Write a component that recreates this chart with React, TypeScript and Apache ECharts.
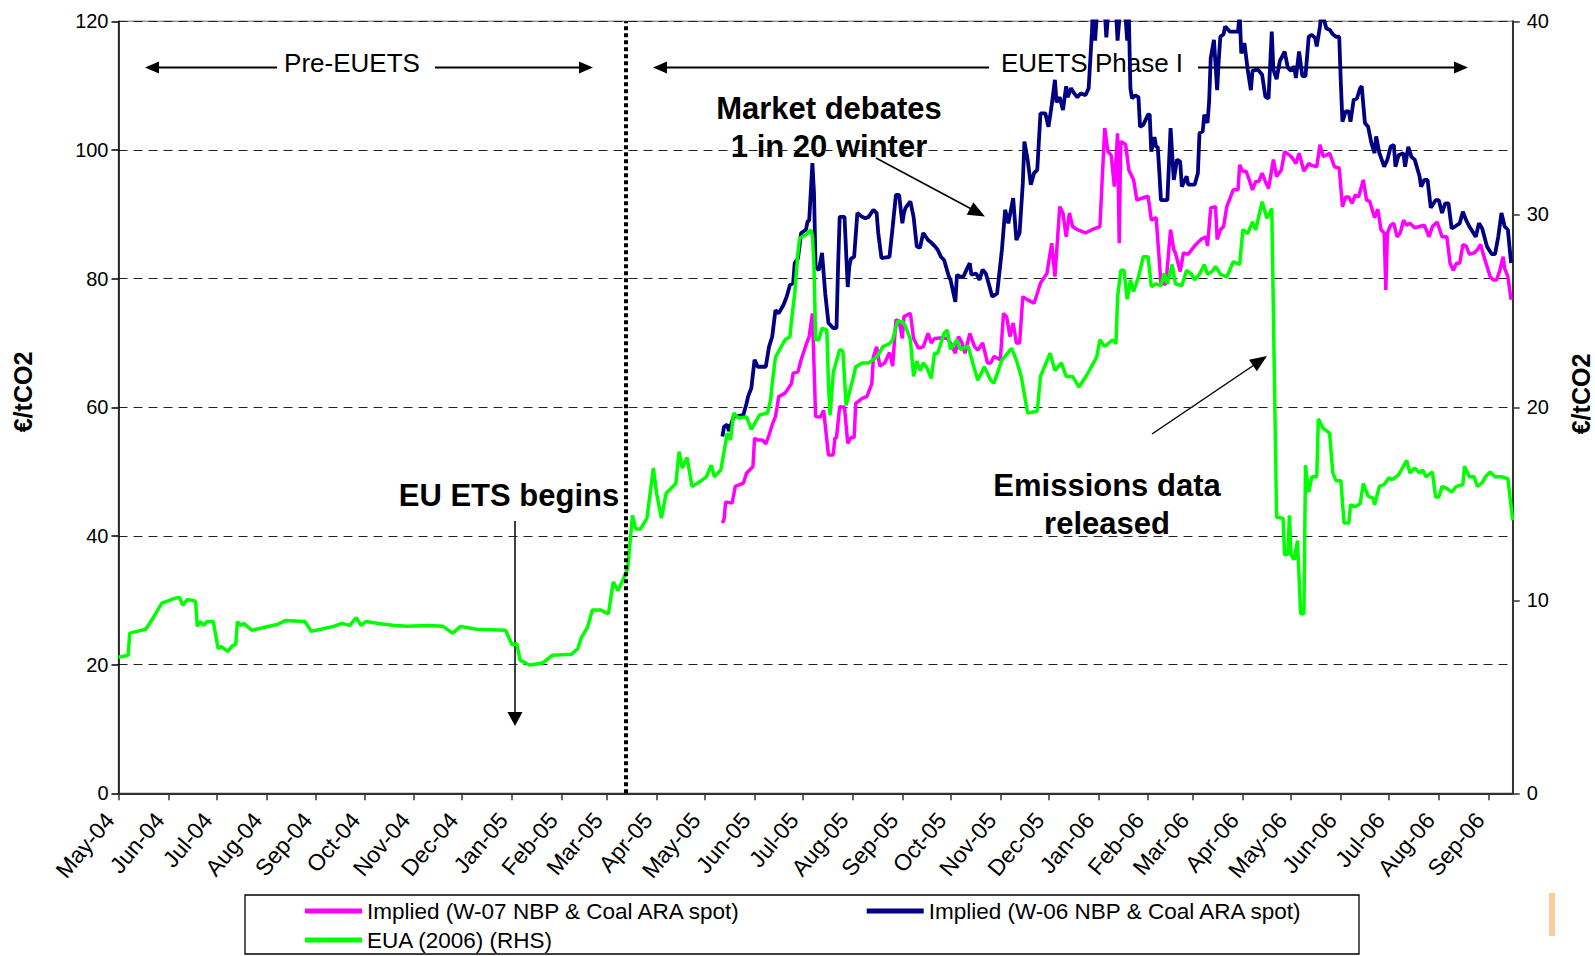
import React, { useEffect, useRef } from 'react';
import * as echarts from 'echarts';

const FONT = '"Liberation Sans", Arial, sans-serif';
const MONTHS = ['Jan', 'Feb', 'Mar', 'Apr', 'May', 'Jun', 'Jul', 'Aug', 'Sep', 'Oct', 'Nov', 'Dec'];

const tickLabels = ['May-04', 'Jun-04', 'Jul-04', 'Aug-04', 'Sep-04', 'Oct-04', 'Nov-04', 'Dec-04', 'Jan-05', 'Feb-05', 'Mar-05', 'Apr-05', 'May-05', 'Jun-05', 'Jul-05', 'Aug-05', 'Sep-05', 'Oct-05', 'Nov-05', 'Dec-05', 'Jan-06', 'Feb-06', 'Mar-06', 'Apr-06', 'May-06', 'Jun-06', 'Jul-06', 'Aug-06', 'Sep-06'];
const axisStart = '2004-05-01';
const axisEnd = '2006-09-16';
const phaseOneMarker = '2005-03-13';

const leftAxis = { min: 0, max: 120, interval: 20 };
const rightAxis = { min: 0, max: 40, interval: 10 };
const axisTitle = '€/tCO2';

const nameW07 = 'Implied (W-07 NBP & Coal ARA spot)';
const nameW06 = 'Implied (W-06 NBP & Coal ARA spot)';
const nameEUA = 'EUA (2006) (RHS)';

// EUA (2006) price, right-hand scale
const euaData: [string, number][] = [
  ['2004-05-01', 7.05], ['2004-05-07', 7.15], ['2004-05-08', 8.3], ['2004-05-18', 8.5], ['2004-05-23', 9.15], ['2004-05-28', 9.85], ['2004-06-05', 10.1], ['2004-06-08', 10.15], ['2004-06-10', 9.75], ['2004-06-13', 10.05], ['2004-06-18', 9.95], ['2004-06-19', 8.65], ['2004-06-21', 8.9], ['2004-06-23', 8.7], ['2004-06-25', 8.9], ['2004-06-29', 8.9], ['2004-07-02', 7.5], ['2004-07-04', 7.6], ['2004-07-08', 7.35], ['2004-07-11', 7.65], ['2004-07-13', 7.7], ['2004-07-14', 8.9], ['2004-07-16', 8.7], ['2004-07-18', 8.8], ['2004-07-23', 8.45], ['2004-07-31', 8.6], ['2004-08-08', 8.75], ['2004-08-13', 8.95], ['2004-08-25', 8.9], ['2004-08-29', 8.4], ['2004-09-04', 8.5], ['2004-09-12', 8.65], ['2004-09-17', 8.8], ['2004-09-22', 8.7], ['2004-09-26', 9.1], ['2004-09-29', 8.7], ['2004-10-02', 8.9], ['2004-10-10', 8.8], ['2004-10-20', 8.7], ['2004-10-28', 8.65], ['2004-11-10', 8.7], ['2004-11-19', 8.65], ['2004-11-25', 8.3], ['2004-11-30', 8.65], ['2004-12-10', 8.5], ['2004-12-28', 8.45],
  ['2005-01-01', 7.7], ['2005-01-04', 7.75], ['2005-01-06', 6.9], ['2005-01-12', 6.65], ['2005-01-20', 6.75], ['2005-01-26', 7.15], ['2005-02-07', 7.2], ['2005-02-11', 7.5], ['2005-02-13', 8.05], ['2005-02-17', 8.6], ['2005-02-20', 9.5], ['2005-02-25', 9.5], ['2005-03-02', 9.3], ['2005-03-05', 10.95], ['2005-03-08', 10.5], ['2005-03-11', 11.05], ['2005-03-14', 11.65], ['2005-03-17', 14.4], ['2005-03-19', 13.7], ['2005-03-22', 13.7], ['2005-03-26', 14.25], ['2005-03-30', 16.85], ['2005-04-01', 15.55], ['2005-04-04', 14.25], ['2005-04-07', 15.55], ['2005-04-13', 16.05], ['2005-04-15', 17.7], ['2005-04-17', 16.85], ['2005-04-20', 17.4], ['2005-04-23', 15.9], ['2005-04-28', 16.15], ['2005-05-02', 16.4], ['2005-05-05', 17.0], ['2005-05-07', 16.4], ['2005-05-11', 16.75], ['2005-05-15', 18.65], ['2005-05-17', 18.3], ['2005-05-19', 19.7], ['2005-05-22', 19.45], ['2005-05-27', 19.5], ['2005-05-30', 18.85], ['2005-06-04', 19.6], ['2005-06-09', 19.7], ['2005-06-11', 20.4], ['2005-06-12', 21.25], ['2005-06-14', 22.6], ['2005-06-20', 23.5], ['2005-06-23', 23.65], ['2005-06-24', 24.5], ['2005-06-26', 25.9], ['2005-06-28', 28.0], ['2005-06-29', 28.75], ['2005-07-04', 29.0], ['2005-07-06', 29.2], ['2005-07-07', 28.9], ['2005-07-08', 27.3], ['2005-07-09', 23.5], ['2005-07-11', 23.5], ['2005-07-13', 24.1], ['2005-07-16', 24.0], ['2005-07-17', 21.25], ['2005-07-18', 19.6], ['2005-07-20', 21.8], ['2005-07-24', 23.0], ['2005-07-26', 22.9], ['2005-07-28', 20.1], ['2005-08-01', 21.4], ['2005-08-03', 22.1], ['2005-08-07', 22.3], ['2005-08-11', 22.3], ['2005-08-16', 22.6], ['2005-08-20', 23.15], ['2005-08-24', 23.3], ['2005-08-26', 23.5], ['2005-08-29', 24.45], ['2005-09-01', 24.45], ['2005-09-03', 24.2], ['2005-09-06', 23.5], ['2005-09-08', 21.6], ['2005-09-10', 22.4], ['2005-09-12', 21.9], ['2005-09-14', 22.3], ['2005-09-16', 22.1], ['2005-09-19', 21.5], ['2005-09-21', 22.8], ['2005-09-23', 22.8], ['2005-09-27', 23.85], ['2005-09-29', 24.0], ['2005-10-01', 23.0], ['2005-10-05', 23.5], ['2005-10-07', 23.0], ['2005-10-12', 23.15], ['2005-10-16', 21.95], ['2005-10-18', 21.4], ['2005-10-22', 22.1], ['2005-10-26', 21.4], ['2005-10-28', 21.25], ['2005-11-02', 22.45], ['2005-11-08', 23.05], ['2005-11-11', 22.45], ['2005-11-14', 21.6], ['2005-11-18', 19.7], ['2005-11-24', 19.8], ['2005-11-26', 21.6], ['2005-12-02', 22.8], ['2005-12-05', 21.9], ['2005-12-09', 22.3], ['2005-12-12', 21.6], ['2005-12-16', 21.6], ['2005-12-20', 21.05], ['2005-12-25', 21.7], ['2005-12-31', 22.6],
  ['2006-01-02', 23.5], ['2006-01-05', 23.15], ['2006-01-10', 23.5], ['2006-01-12', 23.3], ['2006-01-13', 25.7], ['2006-01-15', 27.1], ['2006-01-17', 27.1], ['2006-01-19', 25.6], ['2006-01-21', 26.6], ['2006-01-23', 26.0], ['2006-01-26', 26.75], ['2006-01-29', 27.8], ['2006-02-01', 27.8], ['2006-02-03', 26.25], ['2006-02-06', 26.4], ['2006-02-09', 26.3], ['2006-02-11', 26.95], ['2006-02-13', 26.4], ['2006-02-16', 27.4], ['2006-02-18', 26.4], ['2006-02-22', 26.3], ['2006-02-25', 27.1], ['2006-02-28', 26.9], ['2006-03-02', 26.6], ['2006-03-05', 26.9], ['2006-03-08', 27.4], ['2006-03-10', 26.9], ['2006-03-13', 27.05], ['2006-03-15', 27.3], ['2006-03-18', 26.9], ['2006-03-22', 26.75], ['2006-03-26', 27.55], ['2006-03-30', 27.4], ['2006-04-01', 29.2], ['2006-04-04', 29.0], ['2006-04-07', 29.6], ['2006-04-09', 29.2], ['2006-04-13', 30.65], ['2006-04-16', 29.8], ['2006-04-19', 30.3], ['2006-04-22', 14.3], ['2006-04-26', 14.25], ['2006-04-27', 12.35], ['2006-04-29', 12.4], ['2006-04-30', 14.4], ['2006-05-01', 12.35], ['2006-05-03', 12.1], ['2006-05-05', 13.1], ['2006-05-07', 9.3], ['2006-05-09', 9.3], ['2006-05-10', 17.0], ['2006-05-12', 15.6], ['2006-05-14', 16.4], ['2006-05-17', 16.4], ['2006-05-18', 19.4], ['2006-05-21', 18.9], ['2006-05-23', 18.8], ['2006-05-25', 18.65], ['2006-05-27', 16.6], ['2006-05-29', 16.2], ['2006-06-01', 16.2], ['2006-06-03', 14.0], ['2006-06-06', 14.0], ['2006-06-07', 14.95], ['2006-06-10', 14.85], ['2006-06-13', 15.0], ['2006-06-15', 16.05], ['2006-06-18', 15.4], ['2006-06-21', 15.3], ['2006-06-22', 14.95], ['2006-06-25', 15.9], ['2006-06-28', 16.0], ['2006-07-01', 16.35], ['2006-07-03', 16.25], ['2006-07-07', 16.5], ['2006-07-10', 16.95], ['2006-07-12', 17.25], ['2006-07-14', 16.6], ['2006-07-17', 16.85], ['2006-07-20', 16.6], ['2006-07-22', 16.75], ['2006-07-24', 16.4], ['2006-07-28', 16.65], ['2006-07-30', 15.35], ['2006-08-01', 15.35], ['2006-08-03', 15.9], ['2006-08-06', 15.8], ['2006-08-09', 15.6], ['2006-08-12', 15.9], ['2006-08-16', 16.0], ['2006-08-17', 16.95], ['2006-08-20', 16.4], ['2006-08-23', 16.4], ['2006-08-25', 15.9], ['2006-08-28', 16.1], ['2006-08-30', 16.4], ['2006-09-02', 16.65], ['2006-09-05', 16.4], ['2006-09-09', 16.4], ['2006-09-13', 16.3], ['2006-09-16', 14.15],
];

// Implied price from W-07 NBP & Coal ARA spot, left-hand scale
const w07Data: [string, number][] = [
  ['2005-05-12', 42.0], ['2005-05-13', 42.6], ['2005-05-14', 45.3], ['2005-05-18', 45.1], ['2005-05-20', 47.7], ['2005-05-25', 48.2], ['2005-05-27', 49.75], ['2005-05-31', 50.8], ['2005-06-01', 55.2], ['2005-06-03', 54.9], ['2005-06-06', 54.9], ['2005-06-08', 54.3], ['2005-06-10', 55.7], ['2005-06-12', 57.3], ['2005-06-14', 58.55], ['2005-06-15', 60.0], ['2005-06-16', 61.65], ['2005-06-20', 62.2], ['2005-06-24', 63.7], ['2005-06-25', 65.3], ['2005-06-28', 65.5], ['2005-06-30', 67.4], ['2005-07-02', 68.9], ['2005-07-03', 69.7], ['2005-07-05', 71.0], ['2005-07-07', 74.6], ['2005-07-09', 58.55], ['2005-07-12', 58.5], ['2005-07-14', 59.5], ['2005-07-17', 52.6], ['2005-07-20', 52.6], ['2005-07-21', 55.2], ['2005-07-22', 55.3], ['2005-07-24', 60.1], ['2005-07-27', 60.0], ['2005-07-29', 54.4], ['2005-07-31', 55.3], ['2005-08-02', 55.3], ['2005-08-03', 60.6], ['2005-08-07', 61.4], ['2005-08-10', 61.7], ['2005-08-13', 63.7], ['2005-08-14', 67.9], ['2005-08-16', 69.4], ['2005-08-18', 66.4], ['2005-08-21', 66.9], ['2005-08-24', 68.5], ['2005-08-26', 66.4], ['2005-08-28', 73.6], ['2005-08-30', 73.4], ['2005-09-01', 70.7], ['2005-09-02', 74.1], ['2005-09-06', 74.6], ['2005-09-08', 70.7], ['2005-09-11', 69.2], ['2005-09-14', 69.4], ['2005-09-17', 71.5], ['2005-09-19', 70.0], ['2005-09-21', 70.7], ['2005-09-26', 70.8], ['2005-09-29', 70.7], ['2005-10-01', 70.0], ['2005-10-04', 68.4], ['2005-10-06', 71.0], ['2005-10-08', 70.1], ['2005-10-10', 68.4], ['2005-10-13', 71.5], ['2005-10-16', 69.4], ['2005-10-18', 68.9], ['2005-10-21', 70.0], ['2005-10-24', 66.9], ['2005-10-26', 66.9], ['2005-10-28', 67.9], ['2005-11-01', 67.4], ['2005-11-03', 74.6], ['2005-11-05', 74.0], ['2005-11-07', 71.0], ['2005-11-09', 73.1], ['2005-11-11', 70.0], ['2005-11-13', 70.0], ['2005-11-15', 77.2], ['2005-11-18', 76.7], ['2005-11-22', 76.2], ['2005-11-24', 77.7], ['2005-11-26', 79.3], ['2005-11-30', 80.8], ['2005-12-02', 83.95], ['2005-12-03', 85.5], ['2005-12-05', 80.3], ['2005-12-08', 91.2], ['2005-12-10', 90.2], ['2005-12-12', 86.5], ['2005-12-14', 90.2], ['2005-12-16', 88.1], ['2005-12-19', 87.6], ['2005-12-24', 87.1], ['2005-12-28', 87.6],
  ['2006-01-02', 88.1], ['2006-01-05', 103.4], ['2006-01-07', 99.75], ['2006-01-09', 99.2], ['2006-01-11', 94.3], ['2006-01-13', 102.6], ['2006-01-14', 85.5], ['2006-01-15', 101.3], ['2006-01-18', 100.9], ['2006-01-20', 96.9], ['2006-01-23', 95.35], ['2006-01-25', 92.2], ['2006-01-28', 92.5], ['2006-02-01', 92.8], ['2006-02-03', 89.1], ['2006-02-06', 89.5], ['2006-02-09', 79.3], ['2006-02-12', 79.1], ['2006-02-13', 81.8], ['2006-02-15', 87.6], ['2006-02-17', 84.5], ['2006-02-18', 84.0], ['2006-02-21', 81.1], ['2006-02-23', 84.0], ['2006-02-26', 83.8], ['2006-03-02', 85.1], ['2006-03-04', 85.6], ['2006-03-06', 86.1], ['2006-03-09', 86.5], ['2006-03-10', 85.1], ['2006-03-12', 91.0], ['2006-03-15', 91.2], ['2006-03-16', 86.1], ['2006-03-18', 87.6], ['2006-03-20', 88.1], ['2006-03-22', 91.2], ['2006-03-26', 93.8], ['2006-03-29', 93.8], ['2006-03-30', 97.7], ['2006-04-01', 96.7], ['2006-04-03', 96.7], ['2006-04-05', 95.35], ['2006-04-07', 93.8], ['2006-04-09', 95.1], ['2006-04-11', 95.1], ['2006-04-13', 96.4], ['2006-04-15', 95.1], ['2006-04-17', 94.0], ['2006-04-20', 98.5], ['2006-04-22', 95.9], ['2006-04-25', 96.9], ['2006-04-27', 99.75], ['2006-04-30', 99.2], ['2006-05-02', 98.7], ['2006-05-04', 97.9], ['2006-05-06', 99.5], ['2006-05-09', 96.7], ['2006-05-12', 97.9], ['2006-05-14', 97.6], ['2006-05-17', 97.4], ['2006-05-19', 100.8], ['2006-05-21', 99.0], ['2006-05-23', 99.2], ['2006-05-25', 99.5], ['2006-05-28', 97.4], ['2006-05-31', 97.2], ['2006-06-02', 91.2], ['2006-06-04', 92.7], ['2006-06-06', 92.7], ['2006-06-08', 91.7], ['2006-06-10', 93.0], ['2006-06-12', 92.7], ['2006-06-15', 95.35], ['2006-06-17', 92.2], ['2006-06-19', 92.0], ['2006-06-22', 89.5], ['2006-06-24', 90.8], ['2006-06-26', 87.6], ['2006-06-28', 87.1], ['2006-06-29', 78.25], ['2006-06-30', 87.1], ['2006-07-02', 88.3], ['2006-07-04', 88.6], ['2006-07-06', 86.5], ['2006-07-08', 87.1], ['2006-07-10', 89.1], ['2006-07-12', 88.3], ['2006-07-14', 88.6], ['2006-07-17', 87.9], ['2006-07-23', 88.3], ['2006-07-26', 86.5], ['2006-07-28', 88.1], ['2006-07-31', 88.8], ['2006-08-03', 86.5], ['2006-08-06', 86.5], ['2006-08-08', 82.4], ['2006-08-10', 81.3], ['2006-08-12', 82.4], ['2006-08-14', 82.4], ['2006-08-16', 85.3], ['2006-08-18', 85.1], ['2006-08-20', 83.8], ['2006-08-23', 84.0], ['2006-08-25', 84.5], ['2006-08-27', 85.3], ['2006-08-29', 83.5], ['2006-09-02', 80.3], ['2006-09-04', 79.8], ['2006-09-06', 79.8], ['2006-09-08', 81.3], ['2006-09-10', 83.4], ['2006-09-11', 81.6], ['2006-09-13', 80.3], ['2006-09-15', 76.7],
];

// Implied price from W-06 NBP & Coal ARA spot, left-hand scale (runs above 120 and is clipped)
const w06Data: [string, number][] = [
  ['2005-05-12', 55.45], ['2005-05-13', 57.0], ['2005-05-15', 57.3], ['2005-05-16', 56.3], ['2005-05-19', 58.55], ['2005-05-25', 58.8], ['2005-05-27', 60.6], ['2005-05-28', 61.7], ['2005-05-30', 63.0], ['2005-06-01', 67.4], ['2005-06-03', 66.3], ['2005-06-08', 66.3], ['2005-06-10', 69.4], ['2005-06-12', 71.0], ['2005-06-14', 75.1], ['2005-06-16', 74.6], ['2005-06-19', 75.9], ['2005-06-21', 77.2], ['2005-06-23', 79.0], ['2005-06-25', 79.3], ['2005-06-26', 82.4], ['2005-06-28', 83.1], ['2005-06-30', 87.1], ['2005-07-03', 87.6], ['2005-07-04', 88.9], ['2005-07-05', 89.0], ['2005-07-07', 97.95], ['2005-07-08', 93.3], ['2005-07-09', 81.9], ['2005-07-11', 81.3], ['2005-07-13', 84.0], ['2005-07-15', 77.7], ['2005-07-17', 73.1], ['2005-07-20', 72.3], ['2005-07-22', 72.3], ['2005-07-23', 81.9], ['2005-07-24', 89.6], ['2005-07-27', 89.6], ['2005-07-29', 78.7], ['2005-07-30', 81.9], ['2005-07-31', 83.1], ['2005-08-02', 83.4], ['2005-08-04', 90.2], ['2005-08-07', 89.6], ['2005-08-09', 89.4], ['2005-08-11', 89.6], ['2005-08-14', 90.7], ['2005-08-16', 90.2], ['2005-08-17', 87.1], ['2005-08-19', 83.2], ['2005-08-24', 83.4], ['2005-08-26', 88.1], ['2005-08-28', 93.0], ['2005-08-30', 93.0], ['2005-09-01', 88.6], ['2005-09-02', 90.2], ['2005-09-03', 91.0], ['2005-09-06', 92.0], ['2005-09-08', 89.6], ['2005-09-10', 85.0], ['2005-09-12', 84.8], ['2005-09-14', 87.1], ['2005-09-17', 86.0], ['2005-09-19', 85.6], ['2005-09-21', 85.1], ['2005-09-23', 84.5], ['2005-09-25', 83.4], ['2005-09-27', 82.9], ['2005-09-30', 80.3], ['2005-10-01', 79.8], ['2005-10-04', 76.4], ['2005-10-05', 80.6], ['2005-10-07', 80.3], ['2005-10-09', 80.3], ['2005-10-11', 81.4], ['2005-10-13', 82.4], ['2005-10-14', 80.6], ['2005-10-17', 80.8], ['2005-10-19', 79.8], ['2005-10-21', 81.4], ['2005-10-23', 80.8], ['2005-10-25', 79.0], ['2005-10-27', 77.2], ['2005-10-30', 77.7], ['2005-11-02', 84.5], ['2005-11-04', 90.7], ['2005-11-06', 88.6], ['2005-11-08', 91.2], ['2005-11-09', 92.5], ['2005-11-11', 86.0], ['2005-11-13', 87.1], ['2005-11-15', 94.8], ['2005-11-16', 101.3], ['2005-11-18', 98.5], ['2005-11-20', 94.6], ['2005-11-22', 96.4], ['2005-11-24', 96.9], ['2005-11-26', 105.7], ['2005-11-29', 105.7], ['2005-12-01', 103.6], ['2005-12-03', 107.0], ['2005-12-05', 110.9], ['2005-12-06', 107.4], ['2005-12-08', 108.2], ['2005-12-10', 106.2], ['2005-12-12', 109.9], ['2005-12-13', 108.2], ['2005-12-15', 109.6], ['2005-12-17', 108.8], ['2005-12-19', 108.2], ['2005-12-21', 108.8], ['2005-12-24', 108.5], ['2005-12-26', 109.6], ['2005-12-28', 118.2], ['2005-12-29', 124.0], ['2005-12-30', 117.0],
  ['2006-01-01', 124.0], ['2006-01-04', 126.0], ['2006-01-06', 117.5], ['2006-01-08', 124.0], ['2006-01-11', 126.0], ['2006-01-13', 117.0], ['2006-01-15', 123.0], ['2006-01-17', 124.0], ['2006-01-19', 117.0], ['2006-01-20', 121.0], ['2006-01-21', 109.6], ['2006-01-22', 108.0], ['2006-01-24', 108.5], ['2006-01-26', 108.2], ['2006-01-27', 103.6], ['2006-01-29', 103.9], ['2006-02-01', 105.5], ['2006-02-02', 105.5], ['2006-02-03', 99.75], ['2006-02-05', 102.0], ['2006-02-06', 100.5], ['2006-02-07', 100.5], ['2006-02-08', 96.6], ['2006-02-09', 92.2], ['2006-02-13', 92.2], ['2006-02-15', 103.4], ['2006-02-17', 95.35], ['2006-02-19', 98.5], ['2006-02-21', 98.2], ['2006-02-22', 94.3], ['2006-02-25', 95.9], ['2006-02-26', 94.6], ['2006-03-02', 94.6], ['2006-03-04', 96.4], ['2006-03-05', 102.6], ['2006-03-07', 102.9], ['2006-03-08', 105.5], ['2006-03-10', 104.2], ['2006-03-11', 107.5], ['2006-03-12', 114.3], ['2006-03-14', 117.1], ['2006-03-16', 109.3], ['2006-03-17', 114.0], ['2006-03-18', 117.6], ['2006-03-20', 118.0], ['2006-03-21', 119.2], ['2006-03-24', 118.4], ['2006-03-29', 118.4], ['2006-03-30', 121.5], ['2006-03-31', 115.0], ['2006-04-02', 116.6], ['2006-04-04', 112.5], ['2006-04-06', 109.3], ['2006-04-07', 112.3], ['2006-04-10', 112.5], ['2006-04-11', 112.3], ['2006-04-13', 111.7], ['2006-04-15', 108.3], ['2006-04-17', 108.0], ['2006-04-19', 118.4], ['2006-04-20', 112.5], ['2006-04-22', 111.0], ['2006-04-24', 113.8], ['2006-04-27', 115.3], ['2006-04-29', 112.8], ['2006-05-01', 112.3], ['2006-05-03', 113.0], ['2006-05-04', 111.2], ['2006-05-06', 115.3], ['2006-05-08', 111.5], ['2006-05-10', 111.5], ['2006-05-12', 117.6], ['2006-05-14', 117.9], ['2006-05-16', 117.4], ['2006-05-17', 116.1], ['2006-05-19', 119.2], ['2006-05-20', 121.5], ['2006-05-23', 118.9], ['2006-05-25', 118.7], ['2006-05-27', 118.0], ['2006-05-29', 117.6], ['2006-05-31', 117.6], ['2006-06-01', 110.4], ['2006-06-02', 104.4], ['2006-06-04', 106.0], ['2006-06-06', 106.0], ['2006-06-07', 104.4], ['2006-06-09', 107.8], ['2006-06-11', 108.0], ['2006-06-13', 109.6], ['2006-06-14', 109.9], ['2006-06-16', 104.2], ['2006-06-18', 103.6], ['2006-06-20', 101.1], ['2006-06-22', 99.5], ['2006-06-23', 102.1], ['2006-06-25', 99.5], ['2006-06-28', 97.4], ['2006-06-30', 98.5], ['2006-07-02', 100.5], ['2006-07-04', 100.8], ['2006-07-05', 97.4], ['2006-07-07', 99.2], ['2006-07-10', 99.5], ['2006-07-11', 97.4], ['2006-07-13', 100.5], ['2006-07-15', 98.9], ['2006-07-17', 98.5], ['2006-07-20', 95.9], ['2006-07-21', 94.3], ['2006-07-23', 95.35], ['2006-07-25', 95.35], ['2006-07-27', 91.0], ['2006-07-30', 92.2], ['2006-08-01', 92.2], ['2006-08-03', 90.2], ['2006-08-05', 91.7], ['2006-08-07', 91.7], ['2006-08-09', 87.8], ['2006-08-11', 88.1], ['2006-08-14', 88.6], ['2006-08-16', 90.4], ['2006-08-18', 89.1], ['2006-08-20', 88.1], ['2006-08-24', 86.5], ['2006-08-26', 88.6], ['2006-08-28', 87.8], ['2006-08-31', 85.0], ['2006-09-03', 83.8], ['2006-09-05', 83.8], ['2006-09-07', 86.5], ['2006-09-09', 90.2], ['2006-09-11', 88.1], ['2006-09-13', 87.6], ['2006-09-15', 82.4],
];

const DAY = 86400000;
const BASE = Date.UTC(2004, 4, 1);
// x is measured in days since 1 May 2004 (UTC), so month lengths stay exact
const toDay = (s: string) => {
  const [y, m, d] = s.split('-').map(Number);
  return (Date.UTC(y, m - 1, d) - BASE) / DAY;
};
const labelDay = (l: string) => {
  const [mon, yy] = l.split('-');
  return (Date.UTC(2000 + Number(yy), MONTHS.indexOf(mon), 1) - BASE) / DAY;
};
const toSeries = (rows: [string, number][]) => rows.map(([d, v]) => [toDay(d), v]);

const arrowHead = (tx: number, ty: number, fx: number, fy: number, len: number, hw: number) => {
  const dx = tx - fx;
  const dy = ty - fy;
  const L = Math.sqrt(dx * dx + dy * dy);
  const ux = dx / L;
  const uy = dy / L;
  const bx = tx - ux * len;
  const by = ty - uy * len;
  return {
    type: 'polygon',
    silent: true,
    shape: { points: [[tx, ty], [bx - uy * hw, by + ux * hw], [bx + uy * hw, by - ux * hw]] },
    style: { fill: '#000' },
  };
};
const seg = (x1: number, y1: number, x2: number, y2: number, w: number) => ({
  type: 'line',
  silent: true,
  shape: { x1, y1, x2, y2 },
  style: { stroke: '#000', lineWidth: w },
});
const label = (x: number, y: number, text: string, size: number, weight: string, rotation = 0) => ({
  type: 'text',
  silent: true,
  x,
  y,
  rotation,
  style: { text, fontSize: size, fontWeight: weight, fontFamily: FONT, fill: '#000', align: 'center', verticalAlign: 'middle' },
});

export default function App() {
  const ref = useRef<HTMLDivElement>(null);

  useEffect(() => {
    document.body.style.margin = '0';
    document.body.style.overflow = 'hidden';
    if (!ref.current) return;
    const chart = echarts.init(ref.current, null, { renderer: 'svg' });

    const tickDays = tickLabels.map(labelDay);
    const labelMap = new Map<number, string>();
    tickLabels.forEach((l, i) => labelMap.set(tickDays[i], l));

    const graphic: any[] = [
      // Pre-EUETS span
      seg(152, 67.5, 277, 67.5, 2), seg(435, 67.5, 586, 67.5, 2),
      arrowHead(145, 67.5, 160, 67.5, 14, 6), arrowHead(593, 67.5, 578, 67.5, 14, 6),
      label(352, 63, 'Pre-EUETS', 26, 'normal'),
      // EUETS Phase I span
      seg(660, 67.5, 989, 67.5, 2), seg(1198, 67.5, 1461, 67.5, 2),
      arrowHead(653, 67.5, 668, 67.5, 14, 6), arrowHead(1468, 67.5, 1453, 67.5, 14, 6),
      label(1092, 63, 'EUETS Phase I', 26, 'normal'),
      // Market debates
      label(829, 108, 'Market debates', 31, 'bold'),
      label(829, 146, '1 in 20 winter', 31, 'bold'),
      seg(876, 158, 978, 212.5, 1.5), arrowHead(985, 216.5, 876, 158, 17, 7),
      // EU ETS begins
      label(509, 495, 'EU ETS begins', 31, 'bold'),
      seg(515, 521, 515, 714, 1.5), arrowHead(515, 726, 515, 521, 14, 7.5),
      // Emissions data released
      label(1107, 485, 'Emissions data', 31, 'bold'),
      label(1107, 523, 'released', 31, 'bold'),
      seg(1152, 434, 1260, 361, 1.5), arrowHead(1267, 356, 1152, 434, 17, 7),
      // axis titles
      label(23, 392, axisTitle, 25, 'bold', Math.PI / 2),
      label(1581, 394, axisTitle, 25, 'bold', Math.PI / 2),
      // legend frame
      { type: 'rect', silent: true, shape: { x: 245, y: 895, width: 1114, height: 59 }, style: { fill: 'none', stroke: '#000', lineWidth: 1.3 } },
      { type: 'rect', silent: true, shape: { x: 1549, y: 893, width: 6, height: 43 }, style: { fill: '#FFCC99' } },
    ];

    const legendBase = {
      left: 305,
      orient: 'horizontal',
      icon: 'rect',
      itemWidth: 57,
      itemHeight: 5,
      itemGap: 125,
      padding: 0,
      selectedMode: false,
      textStyle: { fontSize: 22.5, color: '#000', fontFamily: FONT, lineHeight: 24 },
    };

    const option: any = {
      animation: false,
      textStyle: { fontFamily: FONT },
      grid: { left: 118.5, right: 82.3, top: 21.3, bottom: 162.7, show: true, borderColor: '#999', borderWidth: 1.5 },
      legend: [
        { ...legendBase, top: 899, data: [nameW07, nameW06] },
        { ...legendBase, top: 928, data: [nameEUA] },
      ],
      xAxis: {
        type: 'value',
        min: toDay(axisStart),
        max: toDay(axisEnd),
        axisLine: { show: true, onZero: false, lineStyle: { color: '#333', width: 2 } },
        axisTick: { show: true, length: 7, customValues: tickDays, lineStyle: { color: '#333', width: 1.5 } },
        axisLabel: {
          fontSize: 23,
          color: '#000',
          fontFamily: FONT,
          customValues: tickDays,
          rotate: 50,
          margin: 30,
          align: 'right',
          verticalAlign: 'bottom',
          showMinLabel: true,
          showMaxLabel: true,
          formatter: (v: number) => labelMap.get(v) ?? '',
        },
        splitLine: { show: false },
      },
      yAxis: [
        {
          type: 'value',
          position: 'left',
          ...leftAxis,
          axisLine: { show: true, lineStyle: { color: '#000', width: 1.5 } },
          axisTick: { show: true, length: 7, lineStyle: { color: '#000', width: 1.5 } },
          axisLabel: { fontSize: 20, color: '#000', fontFamily: FONT, margin: 10 },
          splitLine: { show: true, lineStyle: { color: '#222', type: [9, 6], width: 1 } },
        },
        {
          type: 'value',
          position: 'right',
          ...rightAxis,
          axisLine: { show: true, lineStyle: { color: '#333', width: 2 } },
          axisTick: { show: true, length: 7, lineStyle: { color: '#333', width: 1.5 } },
          axisLabel: { fontSize: 20, color: '#000', fontFamily: FONT, margin: 14 },
          splitLine: { show: false },
        },
      ],
      series: [
        {
          name: nameW07,
          type: 'line',
          yAxisIndex: 0,
          data: toSeries(w07Data),
          symbol: 'none',
          clip: true,
          emphasis: { disabled: true },
          itemStyle: { color: '#FF00FF' },
          lineStyle: { color: '#FF00FF', width: 3.5 },
        },
        {
          name: nameW06,
          type: 'line',
          yAxisIndex: 0,
          data: toSeries(w06Data),
          symbol: 'none',
          clip: true,
          emphasis: { disabled: true },
          itemStyle: { color: '#000080' },
          lineStyle: { color: '#000080', width: 3.8 },
        },
        {
          name: nameEUA,
          type: 'line',
          yAxisIndex: 1,
          data: toSeries(euaData),
          symbol: 'none',
          clip: true,
          emphasis: { disabled: true },
          itemStyle: { color: '#00FF00' },
          lineStyle: { color: '#00FF00', width: 3.5 },
          markLine: {
            silent: true,
            symbol: ['none', 'none'],
            label: { show: false },
            lineStyle: { color: '#000', type: [4, 3], width: 4 },
            data: [{ xAxis: toDay(phaseOneMarker) }],
          },
        },
      ],
      graphic,
    };

    chart.setOption(option);
    return () => chart.dispose();
  }, []);

  return <div ref={ref} style={{ width: 1595, height: 956 }} />;
}
